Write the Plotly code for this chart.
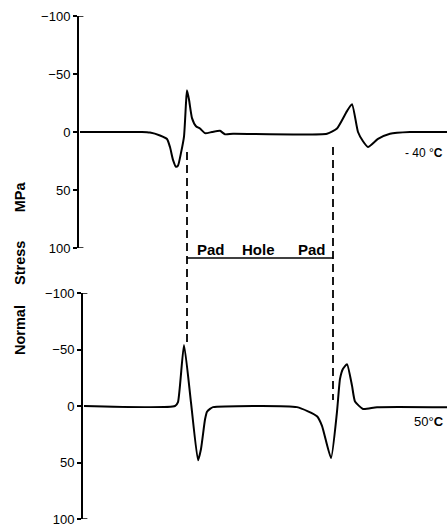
import plotly.graph_objects as go

# ---------------- data (position along specimen in drawing units, stress in MPa) ----------------
top_pos = [1, 63, 71, 81, 88, 91, 94, 97, 99, 102, 105, 107, 108, 110, 113, 117, 121, 126, 133,
           141, 146, 154, 248, 258, 268, 273, 279, 284, 289, 299, 311, 331, 368]
top_stress = [0, 0, 0.5, 3, 6, 13, 24, 30, 29, 18, 4, -25, -36, -28, -12, -5, -3, 1, 0,
              -1, 2, 1.5, 1.5, -3, -18, -24, 0, 8, 13, 6, 1.5, 0, 0]

bot_pos = [5, 96, 99, 105, 112, 119, 122, 126, 128, 131, 134, 218, 238, 243, 252, 258,
           261, 264, 268, 273, 276, 284, 298, 368]
bot_stress = [0, 0, -3.5, -54, -3, 48, 38, 12, 5, 2.5, 1, 1, 9, 17.5, 46, 5,
              -24, -33, -37, -18, -4, 2.6, 1, 1]

pad_edges = [108, 254]
region_labels = ["Pad", "Hole", "Pad"]
region_label_pos = [132, 179, 233]

y_tickvals = [-100, -50, 0, 50, 100]
y_ticktext = ["\u2212100", "\u221250", "0", "50", "100"]

temp_labels = ["- 40 °<b>C</b>", "50°<b>C</b>"]
y_title = "Normal" + "\u00a0" * 5 + "Stress" + "\u00a0" * 7 + "MPa"

# ---------------- layout helpers ----------------
W, H = 447, 529
def py(px):
    return 1 - px / H

font_family = "Liberation Sans, Arial, sans-serif"

fig = go.Figure()
line_style = dict(color="black", width=2, shape="spline", smoothing=0.5)
fig.add_trace(go.Scatter(x=top_pos, y=top_stress, mode="lines", line=line_style,
                         xaxis="x", yaxis="y", hoverinfo="skip"))
fig.add_trace(go.Scatter(x=bot_pos, y=bot_stress, mode="lines", line=line_style,
                         xaxis="x2", yaxis="y2", hoverinfo="skip"))

yaxis_common = dict(range=[100, -100], showline=True, linecolor="black", linewidth=2,
                    ticks="outside", ticklen=4, tickwidth=1.5, tickcolor="black",
                    tickvals=y_tickvals, ticktext=y_ticktext, showgrid=False, zeroline=False,
                    automargin=False,
                    tickfont=dict(family=font_family, size=13, color="black"))

fig.update_layout(
    template="none",
    width=W, height=H, autosize=False,
    margin=dict(l=0, r=0, t=0, b=0, pad=0),
    paper_bgcolor="white", plot_bgcolor="white",
    showlegend=False,
    xaxis=dict(domain=[79 / W, 1], range=[0, 368], visible=False, anchor="y", automargin=False),
    yaxis=dict(domain=[py(248), py(16)], anchor="x", **yaxis_common),
    xaxis2=dict(domain=[83 / W, 1], range=[4, 368], visible=False, anchor="y2", automargin=False),
    yaxis2=dict(domain=[py(519), py(293)], anchor="x2", **yaxis_common),
)

shapes = []
# axis end hooks
for xr, yr in (("x domain", "y"), ("x2 domain", "y2")):
    for v in (-100, 100):
        shapes.append(dict(type="line", xref=xr, yref=yr, x0=0, x1=0.012, y0=v, y1=v,
                           line=dict(color="black", width=1.5)))
# dashed lines at pad/hole boundaries
dash_extent = [(152, 347), (147, 400)]
for xe, (a, b) in zip(pad_edges, dash_extent):
    shapes.append(dict(type="line", xref="x", yref="paper", x0=xe, x1=xe, y0=py(a), y1=py(b),
                       line=dict(color="black", width=1.8, dash="8px,5px")))
# Pad-Hole-Pad bar
shapes.append(dict(type="line", xref="x", yref="paper", x0=pad_edges[0], x1=pad_edges[1],
                   y0=py(258), y1=py(258), line=dict(color="black", width=1.5)))
fig.update_layout(shapes=shapes)

ann = []
for lbl, xp in zip(region_labels, region_label_pos):
    ann.append(dict(text=f"<b>{lbl}</b>", x=xp, xref="x", y=py(249), yref="paper",
                    showarrow=False, xanchor="center", yanchor="middle",
                    font=dict(family=font_family, size=15, color="black")))
ann.append(dict(text=temp_labels[0], x=366, xref="x", y=18, yref="y", showarrow=False,
                xanchor="right", yanchor="middle",
                font=dict(family=font_family, size=12, color="black")))
ann.append(dict(text=temp_labels[1], x=367, xref="x2", y=14, yref="y2", showarrow=False,
                xanchor="right", yanchor="middle",
                font=dict(family=font_family, size=13, color="black")))
ann.append(dict(text=f"<b>{y_title}</b>", x=20 / W, xref="paper", y=py(269), yref="paper",
                textangle=-90, showarrow=False, xanchor="center", yanchor="middle",
                font=dict(family=font_family, size=14.5, color="black")))
fig.update_layout(annotations=ann)

fig.write_html("out.html", config={"displayModeBar": False},
               post_script="document.body.style.margin='0';document.body.style.overflow='hidden';")
